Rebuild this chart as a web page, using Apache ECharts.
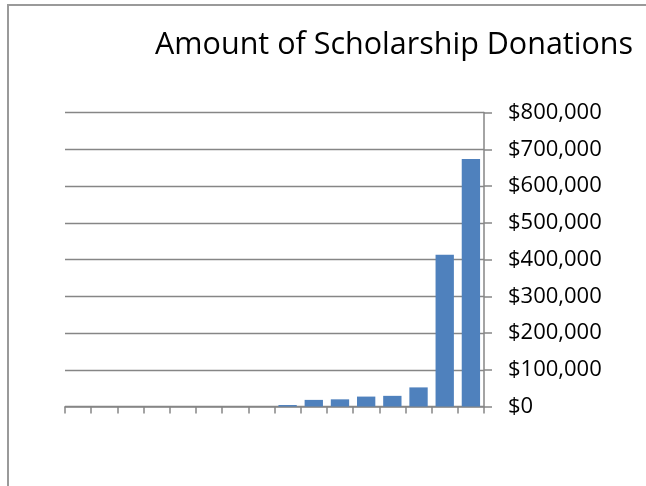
<!DOCTYPE html>
<html>
<head>
<meta charset="utf-8">
<script src="https://cdn.jsdelivr.net/npm/echarts@6/dist/echarts.min.js"></script>
<style>
  html, body { margin:0; padding:0; background:#fff; }
  #chart { width:646px; height:486px; }
</style>
</head>
<body>
<div id="chart"></div>
<script>
// categories have no visible labels in the original
const categories = ['1','2','3','4','5','6','7','8','9','10','11','12','13','14','15','16'];
const donations = [0, 0, 0, 0, 0, 0, 0, 0, 4000, 18000, 19500, 27000, 29000, 52000, 413000, 674000];
const yMax = 800000;
const yStep = 100000;

const chart = echarts.init(document.getElementById('chart'));
const grey = '#868686';
const font = '"Open Sans", "Noto Sans", sans-serif';

chart.setOption({
  animation: false,
  title: {
    text: 'Amount of Scholarship Donations',
    right: 8, top: 25,
    textStyle: {fontFamily: font, fontSize: 30.5, fontWeight: 'normal', color: '#000'}
  },
  graphic: [{
    type: 'rect',
    shape: {x: 8, y: 5, width: 700, height: 600},
    style: {fill: 'none', stroke: '#9a9a9a', lineWidth: 2},
    silent: true
  }],
  grid: {left: 65, right: 162, top: 112.6, bottom: 79.5},
  xAxis: {
    type: 'category',
    data: categories,
    boundaryGap: true,
    axisLine: {lineStyle: {color: grey, width: 1.5}},
    axisTick: {show: true, length: 7, lineStyle: {color: grey, width: 1.5}},
    axisLabel: {show: false},
    splitLine: {show: false}
  },
  yAxis: {
    type: 'value',
    position: 'right',
    min: 0, max: yMax, interval: yStep,
    axisLine: {show: true, lineStyle: {color: grey, width: 1.5}},
    axisTick: {show: true, length: 8, lineStyle: {color: grey, width: 1.5}},
    axisLabel: {
      margin: 24,
      fontFamily: font, fontSize: 22, color: '#000',
      formatter: v => '$' + v.toLocaleString('en-US')
    },
    splitLine: {lineStyle: {color: grey, width: 1.3}}
  },
  series: [{
    type: 'bar',
    data: donations,
    barCategoryGap: '30%',
    itemStyle: {color: '#4F81BD'}
  }]
});
</script>
</body>
</html>
